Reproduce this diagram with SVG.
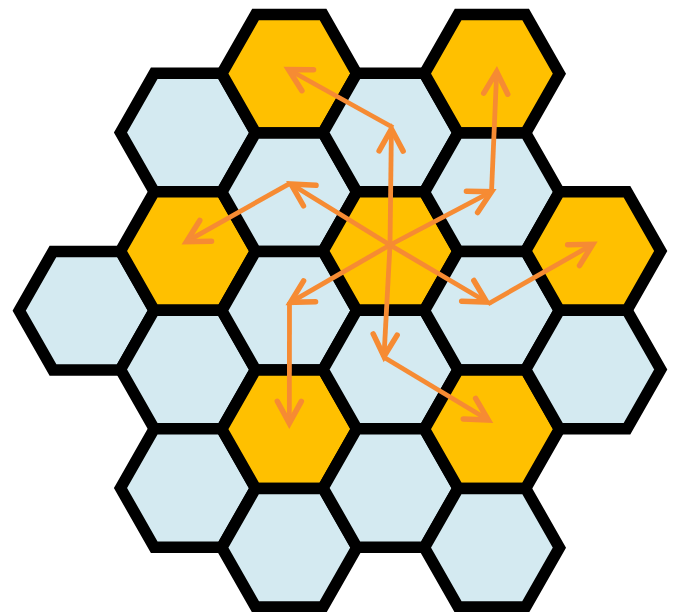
<svg xmlns="http://www.w3.org/2000/svg" xmlns:xlink="http://www.w3.org/1999/xlink" width="678" height="612" viewBox="0 0 678 612">
<style>
.h{stroke:#000;stroke-width:11.5;stroke-linejoin:miter}
.b{fill:#D4EAF1}
.y{fill:#FFC000}
.a{fill:none;stroke:#F68B33;stroke-width:4.8;stroke-linecap:butt;marker-end:url(#ah)}
</style>
<defs>
<polygon id="hx" points="-67.5,0 -33.75,-59.25 33.75,-59.25 67.5,0 33.75,59.25 -33.75,59.25"/>
<marker id="ah" markerUnits="userSpaceOnUse" orient="auto" refX="0" refY="0" markerWidth="40" markerHeight="40" overflow="visible">
<path d="M-22,-12 L0,0 L-22,12" fill="none" stroke="#F68B33" stroke-width="5.5" stroke-linecap="round" stroke-linejoin="miter"/>
</marker>
</defs>
<g id="hexes">
<g id="hex-c1-r3" transform="translate(86.7,310.7)"><use xlink:href="#hx" class="h b"/></g>
<g id="hex-c2-r1" transform="translate(188,132.5)"><use xlink:href="#hx" class="h b"/></g>
<g id="hex-c2-r2" transform="translate(188,251)"><use xlink:href="#hx" class="h y"/></g>
<g id="hex-c2-r3" transform="translate(188,369.5)"><use xlink:href="#hx" class="h b"/></g>
<g id="hex-c2-r4" transform="translate(188,488)"><use xlink:href="#hx" class="h b"/></g>
<g id="hex-c3-r1" transform="translate(289.3,73.7)"><use xlink:href="#hx" class="h y"/></g>
<g id="hex-c3-r2" transform="translate(289.3,192.2)"><use xlink:href="#hx" class="h b"/></g>
<g id="hex-c3-r3" transform="translate(289.3,310.7)"><use xlink:href="#hx" class="h b"/></g>
<g id="hex-c3-r4" transform="translate(289.3,429.2)"><use xlink:href="#hx" class="h y"/></g>
<g id="hex-c3-r5" transform="translate(289.3,547.7)"><use xlink:href="#hx" class="h b"/></g>
<g id="hex-c4-r1" transform="translate(390.6,132.5)"><use xlink:href="#hx" class="h b"/></g>
<g id="hex-c4-r2" transform="translate(390.6,251)"><use xlink:href="#hx" class="h y"/></g>
<g id="hex-c4-r3" transform="translate(390.6,369.5)"><use xlink:href="#hx" class="h b"/></g>
<g id="hex-c4-r4" transform="translate(390.6,488)"><use xlink:href="#hx" class="h b"/></g>
<g id="hex-c5-r1" transform="translate(491.9,73.7)"><use xlink:href="#hx" class="h y"/></g>
<g id="hex-c5-r2" transform="translate(491.9,192.2)"><use xlink:href="#hx" class="h b"/></g>
<g id="hex-c5-r3" transform="translate(491.9,310.7)"><use xlink:href="#hx" class="h b"/></g>
<g id="hex-c5-r4" transform="translate(491.9,429.2)"><use xlink:href="#hx" class="h y"/></g>
<g id="hex-c5-r5" transform="translate(491.9,547.7)"><use xlink:href="#hx" class="h b"/></g>
<g id="hex-c6-r2" transform="translate(593.2,251)"><use xlink:href="#hx" class="h y"/></g>
<g id="hex-c6-r3" transform="translate(593.2,369.5)"><use xlink:href="#hx" class="h b"/></g>
</g>
<g id="connectors">
<line class="a" x1="390" y1="245" x2="391.4" y2="129"/>
<line class="a" x1="393" y1="127.5" x2="288.5" y2="69.5"/>
<line class="a" x1="390" y1="245" x2="291" y2="184"/>
<line class="a" x1="290" y1="183.3" x2="186.5" y2="241.7"/>
<line class="a" x1="390" y1="245" x2="290.5" y2="302.3"/>
<line class="a" x1="289.5" y1="302" x2="289.3" y2="423.3"/>
<line class="a" x1="390" y1="245" x2="384" y2="356.5"/>
<line class="a" x1="383.5" y1="357" x2="488.3" y2="420"/>
<line class="a" x1="390" y1="245" x2="486.7" y2="302"/>
<line class="a" x1="488" y1="304" x2="592.7" y2="244.3"/>
<line class="a" x1="390" y1="245" x2="491.5" y2="191.7"/>
<line class="a" x1="491.5" y1="192" x2="496.7" y2="71.7"/>
</g>
</svg>
